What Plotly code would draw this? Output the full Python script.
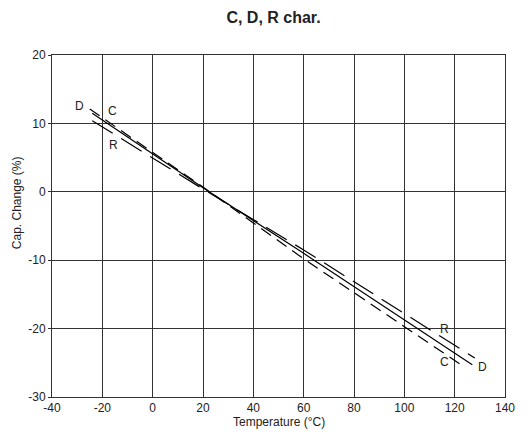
import plotly.graph_objects as go

# capacitance change vs temperature
temp_c = [-25, 20, 60, 123]
cap_c = [12.1, 0.7, -9.8, -25.4]
temp_d = [-24, 20, 60, 127]
cap_d = [11.5, 0.6, -9.0, -25.3]
temp_r = [-24, 20, 60, 128]
cap_r = [10.4, 0.4, -8.5, -24.3]

x_ticks = [-40, -20, 0, 20, 40, 60, 80, 100, 120, 140]
x_ticktext = ['-40', '-20', '0', '20', '40', '60', '80', '100', '120', '140']
y_ticks = [-30, -20, -10, 0, 10, 20]
y_ticktext = ['-30', '-20', '-10', '0', '10', '20']

# curve labels: (text, x, y)
labels = [
    ("D", -29, 12.5), ("C", -16, 11.8), ("R", -15.5, 6.8),
    ("R", 116, -20.0), ("C", 116, -24.9), ("D", 131, -25.6),
]

fig = go.Figure()
fig.add_trace(go.Scatter(x=temp_c, y=cap_c, mode='lines',
                         line=dict(color='black', width=1.2, dash='12px,7px')))
fig.add_trace(go.Scatter(x=temp_d, y=cap_d, mode='lines',
                         line=dict(color='black', width=1.2)))
fig.add_trace(go.Scatter(x=temp_r, y=cap_r, mode='lines',
                         line=dict(color='black', width=1.2, dash='24px,10px')))

for txt, x, y in labels:
    fig.add_annotation(x=x, y=y, text=txt, showarrow=False,
                       font=dict(size=12, color='#222'))

# axis titles placed as annotations to match the reference positions
fig.add_annotation(x=0.501, y=-0.074, xref='paper', yref='paper',
                   text='Temperature (°C)', showarrow=False,
                   xanchor='center', yanchor='middle', font=dict(size=12))
fig.add_annotation(x=-0.077, y=0.567, xref='paper', yref='paper',
                   text='Cap. Change (%)', showarrow=False, textangle=-90,
                   xanchor='center', yanchor='middle', font=dict(size=12))

# page body adds an 8px offset, so margins are set 8px smaller on left/top
fig.update_layout(
    width=531, height=436,
    margin=dict(l=44, r=34, t=47, b=47, autoexpand=False),
    showlegend=False,
    plot_bgcolor='white', paper_bgcolor='white',
    font=dict(family='Liberation Sans, Arial, sans-serif', size=11, color='#222'),
    title=dict(text='<b>C, D, R char.</b>', x=0.5, xanchor='center',
               y=0.979, yanchor='middle',
               font=dict(size=16, color='#222')),
)
fig.update_xaxes(range=[-40, 140], tickvals=x_ticks, ticktext=x_ticktext,
                 tickfont=dict(size=12),
                 showgrid=True, gridcolor='#333', gridwidth=1, zeroline=False,
                 showline=True, linecolor='#333', mirror=True,
                 ticks='', automargin=False)
fig.update_yaxes(range=[-30, 20], tickvals=y_ticks, ticktext=y_ticktext,
                 tickfont=dict(size=12),
                 showgrid=True, gridcolor='#333', gridwidth=1, zeroline=False,
                 showline=True, linecolor='#333', mirror=True,
                 ticks='outside', ticklen=3, tickcolor='#333', automargin=False)

fig.write_html("out.html")
